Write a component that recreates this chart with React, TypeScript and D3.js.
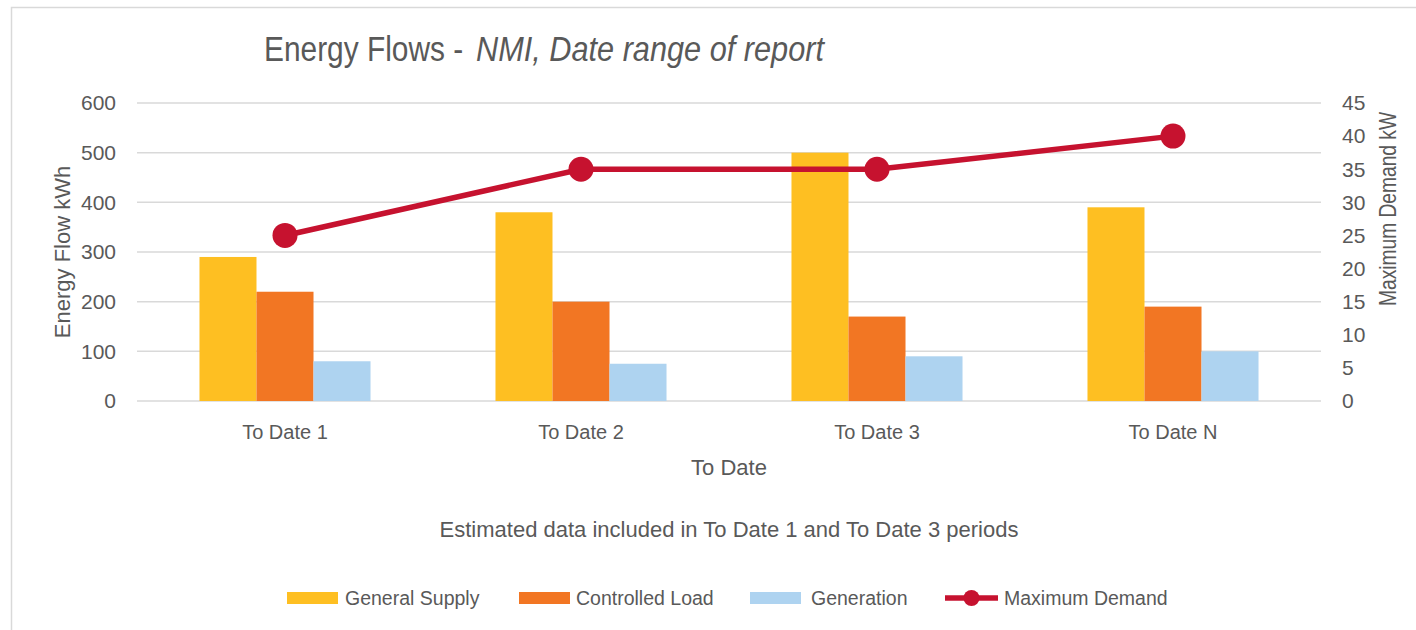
import React from 'react';
import * as d3 from 'd3';

const categories = ['To Date 1', 'To Date 2', 'To Date 3', 'To Date N'];
const seriesNames = ['General Supply', 'Controlled Load', 'Generation'];
const generalSupply = [290, 380, 500, 390];
const controlledLoad = [220, 200, 170, 190];
const generation = [80, 75, 90, 100];
const maxDemand = [25, 35, 35, 40];
const leftTicks = [0, 100, 200, 300, 400, 500, 600];
const rightTicks = [0, 5, 10, 15, 20, 25, 30, 35, 40, 45];

const colors = ['#FEBF22', '#F27623', '#AED3F0'];
const lineColor = '#C6122F';
const textColor = '#595959';
const gridColor = '#D9D9D9';
const font = "'Liberation Sans', Arial, sans-serif";

const App: React.FC = () => {
  const width = 1416;
  const height = 630;
  const margin = { top: 103, right: 95, bottom: 229, left: 137 };
  const plotBottom = height - margin.bottom;

  const x = d3.scaleBand<string>().domain(categories).range([margin.left, width - margin.right]);
  const xSub = d3.scaleBand<string>().domain(seriesNames).range([0, x.bandwidth()]).paddingOuter(1.096);
  const yLeft = d3.scaleLinear().domain([0, 600]).range([plotBottom, margin.top]);
  const yRight = d3.scaleLinear().domain([0, 45]).range([plotBottom, margin.top]);

  const barData = [generalSupply, controlledLoad, generation];
  const line = d3.line<number>()
    .x((_, i) => x(categories[i])! + x.bandwidth() / 2)
    .y(d => yRight(d));

  // legend: swatch start, text start
  const legendItems = [
    { label: 'General Supply', x: 287, tx: 345, type: 'bar', color: colors[0] },
    { label: 'Controlled Load', x: 519, tx: 576, type: 'bar', color: colors[1] },
    { label: 'Generation', x: 750, tx: 811, type: 'bar', color: colors[2] },
    { label: 'Maximum Demand', x: 945, tx: 1004, type: 'line', color: lineColor },
  ];

  return (
    <svg width={width} height={height} style={{ position: 'absolute', left: 0, top: 0, fontFamily: font }}>
      <rect x={0} y={0} width={width} height={height} fill="#fff" />
      <rect x={11.5} y={7.5} width={width + 10} height={height + 10} fill="none" stroke={gridColor} strokeWidth={1.5} />

      {/* title, squeezed to the narrow face of the original */}
      <text transform="translate(264,61) scale(0.83,1)" fontSize={36} fill={textColor}>Energy Flows -</text>
      <text transform="translate(476,61) scale(0.853,1)" fontSize={36} fill={textColor} fontStyle="italic">NMI, Date range of report</text>

      {leftTicks.map(t => (
        <g key={t}>
          <line x1={margin.left} x2={width - margin.right} y1={yLeft(t)} y2={yLeft(t)} stroke={gridColor} strokeWidth={1.5} />
          <text x={116} y={yLeft(t)} dy="0.35em" textAnchor="end" fontSize={21} fill={textColor}>{t}</text>
        </g>
      ))}
      {rightTicks.map(t => (
        <text key={t} x={1342} y={yRight(t)} dy="0.35em" textAnchor="start" fontSize={21} fill={textColor}>{t}</text>
      ))}

      <text transform={`translate(70,252) rotate(-90)`} textAnchor="middle" fontSize={22} fill={textColor}>Energy Flow kWh</text>
      <text transform={`translate(1379,209) rotate(-90) scale(0.8,1)`} textAnchor="middle" dy="0.7em" fontSize={24} fill={textColor}>Maximum Demand kW</text>

      {barData.map((vals, si) => (
        <g key={seriesNames[si]} fill={colors[si]}>
          {vals.map((v, ci) => (
            <rect key={ci}
              x={x(categories[ci])! + xSub(seriesNames[si])!}
              y={yLeft(v)}
              width={xSub.bandwidth()}
              height={plotBottom - yLeft(v)} />
          ))}
        </g>
      ))}

      <path d={line(maxDemand) || ''} fill="none" stroke={lineColor} strokeWidth={5.5} />
      {maxDemand.map((v, i) => (
        <circle key={i} cx={x(categories[i])! + x.bandwidth() / 2} cy={yRight(v)} r={12.5} fill={lineColor} />
      ))}

      {categories.map(c => (
        <text key={c} x={x(c)! + x.bandwidth() / 2} y={439} textAnchor="middle" fontSize={20} fill={textColor}>{c}</text>
      ))}
      <text x={(margin.left + width - margin.right) / 2} y={475} textAnchor="middle" fontSize={22} fill={textColor}>To Date</text>
      <text x={729} y={537} textAnchor="middle" fontSize={22} fill={textColor}>Estimated data included in To Date 1 and To Date 3 periods</text>

      {legendItems.map(item => (
        <g key={item.label} transform={`translate(${item.x},598)`}>
          {item.type === 'bar'
            ? <rect x={0} y={-6} width={51} height={12} fill={item.color} />
            : <g>
                <line x1={0} x2={53} y1={0} y2={0} stroke={item.color} strokeWidth={5.5} />
                <circle cx={26.5} cy={0} r={8} fill={item.color} />
              </g>}
          <text x={item.tx - item.x} y={0} dy="0.35em" fontSize={19.5} fill={textColor}>{item.label}</text>
        </g>
      ))}
    </svg>
  );
};

export default App;
